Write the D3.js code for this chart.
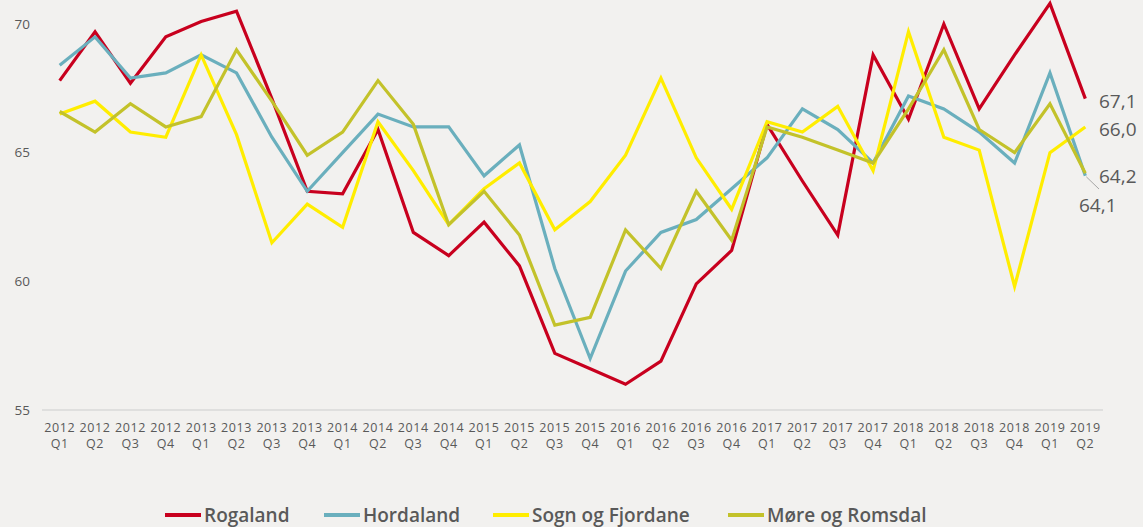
<!DOCTYPE html>
<html>
<head>
<meta charset="utf-8">
<script src="https://cdn.jsdelivr.net/npm/d3@7"></script>
<style>
  body { margin: 0; background: #f2f1ef; }
  svg { display: block; }
  text { font-family: "Open Sans", sans-serif; fill: #595959; }
</style>
</head>
<body>
<div id="chart"></div>
<script>
// SVG area
var svgWidth = 1143;
var svgHeight = 527;

// quarters on the x axis
var years = ["2012","2012","2012","2012","2013","2013","2013","2013","2014","2014","2014","2014",
             "2015","2015","2015","2015","2016","2016","2016","2016","2017","2017","2017","2017",
             "2018","2018","2018","2018","2019","2019"];
var quarters = ["Q1","Q2","Q3","Q4","Q1","Q2","Q3","Q4","Q1","Q2","Q3","Q4",
                "Q1","Q2","Q3","Q4","Q1","Q2","Q3","Q4","Q1","Q2","Q3","Q4",
                "Q1","Q2","Q3","Q4","Q1","Q2"];
var periods = years.map((y, i) => y + " " + quarters[i]);

var yTicks = [55, 60, 65, 70];

var seriesNames = ["Rogaland", "Hordaland", "Sogn og Fjordane", "Møre og Romsdal"];
var seriesColors = ["#c8001e", "#6aafbd", "#ffed00", "#c3c22a"];

var rogaland = [67.8, 69.7, 67.7, 69.5, 70.1, 70.5, 67.1, 63.5, 63.4, 65.9, 61.9, 61.0,
                62.3, 60.6, 57.2, 56.6, 56.0, 56.9, 59.9, 61.2, 66.1, 63.9, 61.8, 68.8,
                66.3, 70.0, 66.7, 68.8, 70.8, 67.1];
var hordaland = [68.4, 69.5, 67.9, 68.1, 68.8, 68.1, 65.6, 63.5, 65.0, 66.5, 66.0, 66.0,
                 64.1, 65.3, 60.5, 57.0, 60.4, 61.9, 62.4, 63.6, 64.8, 66.7, 65.9, 64.6,
                 67.2, 66.7, 65.8, 64.6, 68.1, 64.1];
var sognFjordane = [66.5, 67.0, 65.8, 65.6, 68.8, 65.7, 61.5, 63.0, 62.1, 66.2, 64.3, 62.2,
                    63.6, 64.6, 62.0, 63.1, 64.9, 67.9, 64.8, 62.8, 66.2, 65.8, 66.8, 64.3,
                    69.7, 65.6, 65.1, 59.8, 65.0, 66.0];
var moreRomsdal = [66.6, 65.8, 66.9, 66.0, 66.4, 69.0, 67.0, 64.9, 65.8, 67.8, 66.1, 62.2,
                   63.5, 61.8, 58.3, 58.6, 62.0, 60.5, 63.5, 61.6, 66.0, 65.6, 65.1, 64.6,
                   66.7, 69.0, 65.9, 65.0, 66.9, 64.2];

var allSeries = [rogaland, hordaland, sognFjordane, moreRomsdal];

var svg = d3.select("#chart")
    .append("svg")
    .attr("width", svgWidth)
    .attr("height", svgHeight);

svg.append("rect")
    .attr("width", svgWidth)
    .attr("height", svgHeight)
    .attr("fill", "#f2f1ef");

// scales
var xScale = d3.scalePoint()
    .domain(periods)
    .range([42, 1103])
    .padding(0.5);

var yScale = d3.scaleLinear()
    .domain([55, 70])
    .range([410, 24]);

// y axis labels (no line)
var yAxis = svg.append("g")
    .attr("transform", "translate(30,0)")
    .call(d3.axisLeft(yScale).tickValues(yTicks).tickSize(0).tickPadding(0));
yAxis.select(".domain").remove();
yAxis.selectAll("text")
    .attr("font-family", "Open Sans, sans-serif")
    .attr("font-size", 13.5)
    .attr("fill", "#595959");

// x axis line
svg.append("line")
    .attr("x1", 42)
    .attr("x2", 1103)
    .attr("y1", yScale(55))
    .attr("y2", yScale(55))
    .attr("stroke", "#d9d9d9")
    .attr("stroke-width", 1.5);

// two line x labels
var xLabels = svg.append("g").selectAll("text")
    .data(periods)
    .enter()
    .append("text")
    .attr("text-anchor", "middle")
    .attr("font-size", 12.5)
    .attr("letter-spacing", 0.6);

xLabels.append("tspan")
    .attr("x", d => xScale(d))
    .attr("y", 432)
    .text((d, i) => years[i]);

xLabels.append("tspan")
    .attr("x", d => xScale(d))
    .attr("y", 448)
    .text((d, i) => quarters[i]);

// lines
var line = d3.line()
    .x((d, i) => xScale(periods[i]))
    .y(d => yScale(d));

svg.append("g").selectAll("path")
    .data(allSeries)
    .enter()
    .append("path")
    .attr("d", d => line(d))
    .attr("fill", "none")
    .attr("stroke", (d, i) => seriesColors[i])
    .attr("stroke-width", 3.2)
    .attr("stroke-linejoin", "miter");

// end value labels
var endLabels = [
    { text: "67,1", x: 1099, y: 108 },
    { text: "66,0", x: 1099, y: 136 },
    { text: "64,2", x: 1099, y: 183 },
    { text: "64,1", x: 1079, y: 212 }
];

svg.append("line")
    .attr("x1", xScale(periods[29]) + 1)
    .attr("y1", yScale(64.1) + 1)
    .attr("x2", 1099)
    .attr("y2", 189)
    .attr("stroke", "#a6a6a6")
    .attr("stroke-width", 1);

svg.append("g").selectAll("text")
    .data(endLabels)
    .enter()
    .append("text")
    .attr("x", d => d.x)
    .attr("y", d => d.y)
    .attr("font-size", 19)
    .attr("fill", "#404040")
    .text(d => d.text);

// legend
var legendX = [165, 324, 493, 728];
var legend = svg.append("g").selectAll("g")
    .data(seriesNames)
    .enter()
    .append("g")
    .attr("transform", (d, i) => `translate(${legendX[i]}, 515)`);

legend.append("line")
    .attr("x1", 0)
    .attr("x2", 36)
    .attr("stroke", (d, i) => seriesColors[i])
    .attr("stroke-width", 4);

legend.append("text")
    .attr("x", 39)
    .attr("y", 6.5)
    .attr("font-size", 19)
    .attr("font-weight", 600)
    .text(d => d);
</script>
</body>
</html>
